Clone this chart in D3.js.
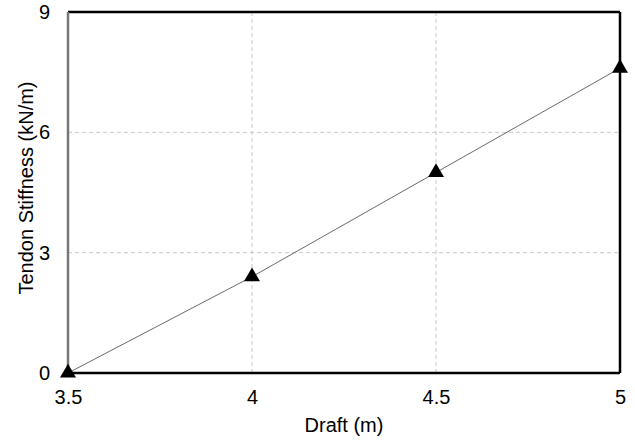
<!DOCTYPE html>
<html>
<head>
<meta charset="utf-8">
<script src="https://cdn.jsdelivr.net/npm/d3@7"></script>
<style>
  body { margin: 0; background: #fff; }
  text { font-family: "Liberation Sans", Arial, sans-serif; }
</style>
</head>
<body>
<div id="chart"></div>
<script>
var draft = [3.5, 4, 4.5, 5];
var stiffness = [0, 2.4, 5.0, 7.6];
var xTicks = [3.5, 4, 4.5, 5];
var yTicks = [0, 3, 6, 9];

var svgWidth = 635;
var svgHeight = 440;

var margin = { top: 12, right: 15, bottom: 67, left: 68 };
var width = svgWidth - margin.left - margin.right;
var height = svgHeight - margin.top - margin.bottom;

var svg = d3.select("#chart")
  .append("svg")
  .attr("width", svgWidth)
  .attr("height", svgHeight);

var chartGroup = svg.append("g")
  .attr("transform", `translate(${margin.left}, ${margin.top})`);

var x = d3.scaleLinear().domain([3.5, 5]).range([0, width]);
var y = d3.scaleLinear().domain([0, 9]).range([height, 0]);

// grid
chartGroup.selectAll(".gx")
  .data(xTicks.slice(1, -1))
  .enter()
  .append("line")
  .attr("x1", d => x(d)).attr("x2", d => x(d))
  .attr("y1", 0).attr("y2", height)
  .attr("stroke", "#c8c8c8")
  .attr("stroke-dasharray", "4,3");

chartGroup.selectAll(".gy")
  .data(yTicks.slice(1, -1))
  .enter()
  .append("line")
  .attr("y1", d => y(d)).attr("y2", d => y(d))
  .attr("x1", 0).attr("x2", width)
  .attr("stroke", "#c8c8c8")
  .attr("stroke-dasharray", "4,3");

// frame
chartGroup.append("line")
  .attr("x1", 0).attr("x2", width).attr("y1", 0).attr("y2", 0)
  .attr("stroke", "#000").attr("stroke-width", 2.5);
chartGroup.append("line")
  .attr("x1", width).attr("x2", width).attr("y1", 0).attr("y2", height)
  .attr("stroke", "#000").attr("stroke-width", 2.5);
chartGroup.append("line")
  .attr("x1", 0).attr("x2", width).attr("y1", height).attr("y2", height)
  .attr("stroke", "#000").attr("stroke-width", 2.5);
chartGroup.append("line")
  .attr("x1", 0).attr("x2", 0).attr("y1", 0).attr("y2", height)
  .attr("stroke", "#777").attr("stroke-width", 2.5);

// axes (labels only)
var bottomAxis = d3.axisBottom(x).tickValues(xTicks).tickSize(0).tickPadding(17)
  .tickFormat(d => String(d));
var leftAxis = d3.axisLeft(y).tickValues(yTicks).tickSize(0).tickPadding(18);

var gx = chartGroup.append("g")
  .attr("transform", `translate(0, ${height})`)
  .call(bottomAxis);
var gy = chartGroup.append("g").call(leftAxis);

[gx, gy].forEach(function (g) {
  g.select(".domain").remove();
  g.selectAll("text")
    .style("font-size", "20px")
    .style("font-family", "'Liberation Sans', Arial, sans-serif")
    .attr("fill", "#000");
});

// line
var points = draft.map((d, i) => ({ x: d, y: stiffness[i] }));

chartGroup.append("path")
  .datum(points)
  .attr("fill", "none")
  .attr("stroke", "#444")
  .attr("stroke-width", 0.8)
  .attr("d", d3.line().x(d => x(d.x)).y(d => y(d.y)));

chartGroup.selectAll(".marker")
  .data(points)
  .enter()
  .append("path")
  .attr("transform", d => `translate(${x(d.x)}, ${y(d.y)})`)
  .attr("d", d3.symbol().type(d3.symbolTriangle).size(110))
  .attr("fill", "#000");

// axis titles
chartGroup.append("text")
  .attr("x", width / 2)
  .attr("y", height + 59)
  .attr("text-anchor", "middle")
  .style("font-size", "20px")
  .text("Draft (m)");

chartGroup.append("text")
  .attr("transform", "rotate(-90)")
  .attr("x", -176)
  .attr("y", -35)
  .attr("text-anchor", "middle")
  .style("font-size", "20px")
  .text("Tendon Stiffness (kN/m)");
</script>
</body>
</html>
